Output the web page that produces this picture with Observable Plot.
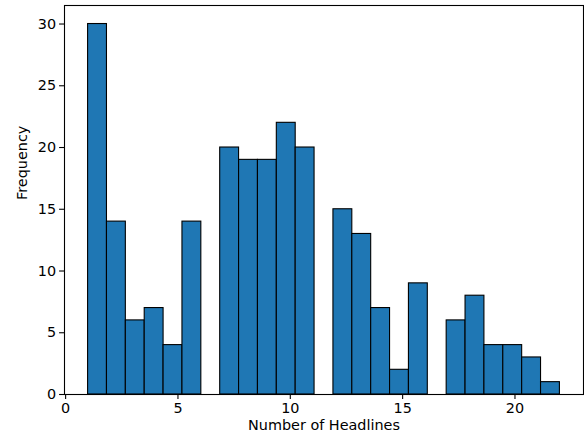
<!DOCTYPE html>
<html>
<head>
<meta charset="utf-8">
<script src="https://cdn.jsdelivr.net/npm/d3@7"></script>
<script src="https://cdn.jsdelivr.net/npm/@observablehq/plot@0.6"></script>
<style>
  html, body { margin: 0; padding: 0; background: #fff; }
</style>
</head>
<body>
<div id="chart"></div>
<script>
// Histogram data: 25 bins from 1 to 22
const binStart = 1;
const binEnd = 22;
const counts = [30, 14, 6, 7, 4, 14, 0, 20, 19, 19, 22, 20, 0, 15, 13, 7, 2, 9, 0, 6, 8, 4, 4, 3, 1];
const xTicks = [0, 5, 10, 15, 20];
const yTicks = [0, 5, 10, 15, 20, 25, 30];
const xLabel = "Number of Headlines";
const yLabel = "Frequency";

const binWidth = (binEnd - binStart) / counts.length;
const bins = counts.map((c, i) => ({
  x1: binStart + i * binWidth,
  x2: binStart + (i + 1) * binWidth,
  count: c
}));

const font = "DejaVu Sans, sans-serif";
const fs = 14.4;

const chart = Plot.plot({
  width: 584,
  height: 441,
  marginLeft: 64,
  marginRight: 1,
  marginTop: 5,
  marginBottom: 47,
  style: { fontFamily: font, fontSize: fs + "px", color: "black", background: "white" },
  x: { domain: [-0.05, 23.05] },
  y: { domain: [0, 31.5] },
  marks: [
    Plot.rectY(bins, { x1: "x1", x2: "x2", y: "count", fill: "#1f77b4", stroke: "black", strokeWidth: 1.1 }),
    Plot.axisX(xTicks, { tickSize: 4.9, tickPadding: 3.5, strokeWidth: 1.1, fontSize: fs, label: null, stroke: "black" }),
    Plot.axisY(yTicks, { tickSize: 4.9, tickPadding: 3.5, strokeWidth: 1.1, fontSize: fs, label: null, stroke: "black" }),
    Plot.frame({ stroke: "black", strokeWidth: 1.1 }),
    Plot.text([xLabel], { frameAnchor: "bottom", dy: 35.5, fontSize: fs, fill: "black" }),
    Plot.text([yLabel], { frameAnchor: "left", dx: -42, rotate: -90, fontSize: fs, fill: "black" })
  ]
});
document.getElementById("chart").appendChild(chart);
</script>
</body>
</html>
